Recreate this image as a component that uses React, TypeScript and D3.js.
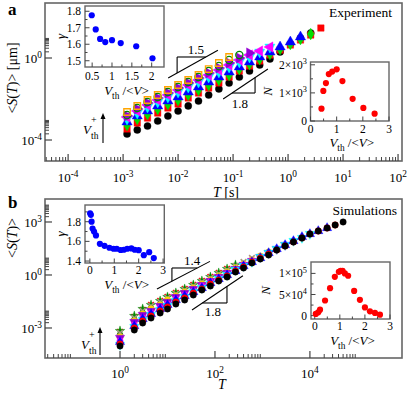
import React from "react";
import * as d3 from "d3";

// ---------- panel a : experiment ----------
const aT = [1.18e-3, 1.81e-3, 2.78e-3, 4.26e-3, 6.53e-3, 1.0e-2, 1.53e-2, 2.35e-2, 3.6e-2, 5.52e-2,
  8.47e-2, 0.13, 0.199, 0.305, 0.468, 0.716, 1.1, 1.68, 2.58, 3.95];
const aBlack = [1.96e-4, 3.1e-4, 4.8e-4, 8.5e-4, 1.48e-3, 2.6e-3, 4.6e-3, 8.0e-3, 1.57e-2, 3.1e-2, 6.0e-2, 0.118, 0.232, 0.456, 0.89, 1.96, 4.8, 9.5, 16.6];
const aRed = [3.44e-4, 6.75e-4, 1.18e-3, 2.07e-3, 3.64e-3, 5.7e-3, 1.12e-2, 1.96e-2, 3.44e-2, 6.03e-2, 0.118, 0.232, 0.407, 0.714, 1.4, 2.45, 4.31, 7.55, 13.2, 29.0];
const aGreenDia = [5.4e-4, 1.06e-3, 1.85e-3, 3.25e-3, 5.7e-3, 8.93e-3, 1.57e-2, 2.75e-2, 4.82e-2, 8.45e-2, 0.148, 0.29, 0.509, 0.893, 1.57, 2.75, 4.82, 8.45, 14.8];
const aBlue = [7.55e-4, 1.48e-3, 2.6e-3, 4.56e-3, 7.98e-3, 1.25e-2, 2.19e-2, 3.85e-2, 6.75e-2, 0.118, 0.207, 0.364, 0.638, 1.12, 1.96, 3.44, 6.03, 10.6];
const aCyan = [1.06e-3, 2.07e-3, 4.07e-3, 7.14e-3, 1.25e-2, 2.19e-2, 3.85e-2, 6.75e-2, 0.118, 0.207, 0.364, 0.638, 1.12, 1.96, 3.44];
const aMagenta = [1.32e-3, 2.6e-3, 5.09e-3, 8.93e-3, 1.57e-2, 2.75e-2, 4.82e-2, 8.45e-2, 0.148, 0.26, 0.456, 0.798, 1.4, 2.19, 3.44];
const aViolet = [1.48e-3, 3.25e-3, 6.38e-3, 1.12e-2, 1.96e-2, 3.44e-2, 6.03e-2, 0.106, 0.185, 0.325, 0.57, 1.0, 1.75];
const aGreenOpen = [1.66e-3, 3.64e-3, 7.14e-3, 1.25e-2, 2.19e-2, 3.85e-2, 6.75e-2, 0.118, 0.232, 0.407, 0.798, 1.4];
const aOrange = [2.32e-3, 4.56e-3, 8.93e-3, 1.57e-2, 2.75e-2, 4.82e-2, 8.45e-2, 0.148, 0.29, 0.57, 1.12];

// insets of panel a
const aGammaX = [0.49, 0.59, 0.7, 0.83, 1.0, 1.22, 1.61, 2.02];
const aGammaY = [1.776, 1.69, 1.632, 1.613, 1.625, 1.607, 1.588, 1.515];
const aNX = [0.42, 0.49, 0.59, 0.7, 0.83, 1.0, 1.22, 1.61, 2.02, 2.45];
const aNY = [440, 1070, 1350, 1670, 1760, 1840, 1420, 790, 465, 262];

// ---------- panel b : simulations ----------
const bT = [1, 2, 3, 4.5, 7, 10, 15, 23, 35, 53, 80, 120, 180, 270, 400, 600, 900, 1350, 2000, 3000,
  4500, 6800, 10000, 15000, 23000, 34000, 50000];
const bBlack = [9.6e-5, 7.7e-4, 1.92e-3, 3.69e-3, 7.07e-3, 1.19e-2, 2.29e-2, 3.85e-2, 7.38e-2, 0.142, 0.239, 0.457, 0.77, 1.48, 2.49, 4.78, 8.04, 13.5, 26.0, 43.8, 73.8, 124, 209, 309, 457, 676, 1000];
const bRed = [1.25e-4, 1.0e-3, 2.49e-3, 4.78e-3, 9.18e-3, 1.55e-2, 2.97e-2, 4.99e-2, 9.58e-2, 0.161, 0.309, 0.521, 0.878, 1.68, 2.84, 5.44, 9.16, 15.4, 26.0, 43.8, 73.8, 124, 209, 309, 457, 676];
const bBlue = [1.62e-4, 1.3e-3, 3.24e-3, 6.21e-3, 1.19e-2, 2.01e-2, 3.85e-2, 6.48e-2, 0.109, 0.184, 0.352, 0.594, 1.0, 1.68, 3.23, 5.44, 9.16, 17.6, 29.6, 49.9, 84.0, 142, 209, 309, 457];
const bCyan = [1.09e-4, 1.14e-3, 2.84e-3, 5.45e-3, 1.05e-2, 1.76e-2, 3.38e-2, 5.69e-2, 0.109, 0.184, 0.309, 0.594, 1.0, 1.92, 3.23, 5.44, 10.4, 17.6, 29.6, 49.9, 84.0, 124, 209];
const bMagenta = [1.84e-4, 1.48e-3, 3.69e-3, 7.07e-3, 1.36e-2, 2.29e-2, 4.38e-2, 7.38e-2, 0.124, 0.239, 0.402, 0.676, 1.14, 1.92, 3.68, 6.2, 10.4, 17.6, 29.6, 49.9, 84.0];
const bViolet = [2.72e-4, 2.19e-3, 5.45e-3, 9.18e-3, 1.76e-2, 2.97e-2, 5.69e-2, 9.58e-2, 0.161, 0.272, 0.457, 0.77, 1.3, 2.19, 3.68, 6.2, 10.4, 17.6, 29.6, 49.9];
const bYellow = [3.1e-4, 2.49e-3, 6.21e-3, 1.19e-2, 2.01e-2, 3.85e-2, 6.48e-2, 0.109, 0.184, 0.309, 0.521, 0.878, 1.48, 2.49, 4.19, 7.06, 11.9, 20.0];
const bGrey = [5.22e-4, 3.69e-3, 9.18e-3, 1.76e-2, 2.97e-2, 4.99e-2, 8.41e-2, 0.142, 0.239, 0.402, 0.676, 1.14, 1.92, 3.23, 5.44, 9.16];
const bGreenStar = [6.78e-4, 4.78e-3, 1.19e-2, 2.01e-2, 3.38e-2, 5.69e-2, 9.58e-2, 0.161, 0.272, 0.457, 0.77, 1.3, 2.19, 3.68];
const bRedX = [5.94e-4, 4.2e-3, 1.05e-2, 2.01e-2, 3.38e-2, 5.69e-2, 9.58e-2, 0.161, 0.272, 0.457, 0.77, 1.3, 2.19];

// insets of panel b
const bGammaX = [0.01, 0.04, 0.07, 0.11, 0.17, 0.25, 0.41, 0.6, 0.8, 0.97, 1.1, 1.26, 1.39, 1.53, 1.7, 1.84, 2.0, 2.21, 2.43, 2.62];
const bGammaY = [1.885, 1.87, 1.8, 1.73, 1.7, 1.66, 1.575, 1.555, 1.535, 1.525, 1.525, 1.512, 1.515, 1.525, 1.528, 1.515, 1.51, 1.46, 1.49, 1.43];
const bNX = [0.04, 0.14, 0.21, 0.41, 0.61, 0.8, 0.96, 1.03, 1.11, 1.2, 1.33, 1.57, 1.8, 2.0, 2.2, 2.4, 2.6];
const bNY = [4000, 7700, 14000, 35800, 64900, 92000, 103700, 106100, 106100, 100000, 94400, 58500, 37500, 19400, 10100, 6300, 2300];

// axis tick exponents / labels
const aXExp = [-4, -3, -2, -1, 0, 1, 2];
const aYExp = [-4, 0];
const bXExp = [0, 2, 4];
const bYExp = [-3, 0, 3];

const FONT = "'Liberation Serif', 'Times New Roman', serif";

type Ser = { kind: string; color: string; open?: boolean; values: number[] };

const aSeries: Ser[] = [
  { kind: "circle", color: "#000000", values: aBlack },
  { kind: "square", color: "#ff0000", values: aRed },
  { kind: "diamond", color: "#00e000", values: aGreenDia },
  { kind: "triUp", color: "#0000ff", values: aBlue },
  { kind: "triDown", color: "#00ffff", values: aCyan },
  { kind: "triLeft", color: "#ff00ff", values: aMagenta },
  { kind: "triRight", color: "#9400d3", values: aViolet },
  { kind: "circle", color: "#008b00", open: true, values: aGreenOpen },
  { kind: "square", color: "#ffa500", open: true, values: aOrange },
];

const bSeries: Ser[] = [
  { kind: "times", color: "#ff0000", values: bRedX },
  { kind: "star", color: "#008b00", values: bGreenStar },
  { kind: "times", color: "#a89880", values: bGrey },
  { kind: "circle", color: "#ffd700", values: bYellow },
  { kind: "triDown", color: "#9400d3", values: bViolet },
  { kind: "circle", color: "#ff00ff", values: bMagenta },
  { kind: "triDown", color: "#00ffff", values: bCyan },
  { kind: "triUp", color: "#0000ff", values: bBlue },
  { kind: "circle", color: "#ff0000", values: bRed },
  { kind: "circle", color: "#000000", values: bBlack },
];

function Mark({ kind, color, open, x, y, size }: any) {
  if (kind === "times") {
    const h = Math.sqrt(size) / 2;
    return <path d={`M${-h},${-h}L${h},${h}M${-h},${h}L${h},${-h}`} transform={`translate(${x},${y})`} stroke={color} strokeWidth={1.6} fill="none" />;
  }
  const type = kind === "circle" ? d3.symbolCircle : kind === "square" ? d3.symbolSquare
    : kind === "diamond" ? d3.symbolDiamond : kind === "star" ? d3.symbolStar : d3.symbolTriangle;
  const rot = kind === "triDown" ? 180 : kind === "triRight" ? 90 : kind === "triLeft" ? -90 : 0;
  const d = d3.symbol().type(type).size(size)() as string;
  return <path d={d} transform={`translate(${x},${y}) rotate(${rot})`} fill={open ? "none" : color} stroke={color} strokeWidth={open ? 1.3 : 0.4} />;
}

function Pow({ x, y, base = "10", exp, anchor = "middle", fs = 13 }: any) {
  return (
    <text x={x} y={y} textAnchor={anchor} fontSize={fs}>
      {base}<tspan dy={-fs * 0.42} fontSize={fs * 0.72}>{exp}</tspan>
    </text>
  );
}

function VLabel({ x, y, fs = 13 }: any) {
  return (
    <text x={x} y={y} textAnchor="middle" fontSize={fs}>
      <tspan fontStyle="italic">V</tspan>
      <tspan dy={4} fontSize={fs * 0.72}>th</tspan>
      <tspan dy={-4}>{" /<"}</tspan>
      <tspan fontStyle="italic">V</tspan>{">"}
    </text>
  );
}

function minors(exps: number[], dom: number[]) {
  const out: number[] = [];
  exps.forEach(e => {
    for (let k = 2; k <= 9; k++) {
      const v = k * Math.pow(10, e);
      if (v > dom[0] && v < dom[1]) out.push(v);
    }
  });
  return out;
}

function LogPanel({ box, xDom, yDom, xExp, yExp, xMinorExp, yMinorExp, T, series, sz, xLabY, yLabX }: any) {
  const x = d3.scaleLog().domain(xDom).range([box.l, box.r]);
  const y = d3.scaleLog().domain(yDom).range([box.b, box.t]);
  const xm = minors(xMinorExp, xDom);
  const ym = minors(yMinorExp, yDom);
  return (
    <g>
      <rect x={box.l} y={box.t} width={box.r - box.l} height={box.b - box.t} fill="white" stroke="#666" strokeWidth={1.6} />
      {xExp.map((e: number) => (
        <g key={"x" + e}>
          <line x1={x(10 ** e)} x2={x(10 ** e)} y1={box.b} y2={box.b - 7} stroke="#444" strokeWidth={1.2} />
          <Pow x={x(10 ** e)} y={xLabY} exp={e} />
        </g>
      ))}
      {xm.map((v: number, i: number) => (
        <line key={"xm" + i} x1={x(v)} x2={x(v)} y1={box.b} y2={box.b - 4} stroke="#444" strokeWidth={1} />
      ))}
      {yExp.map((e: number) => (
        <g key={"y" + e}>
          <line x1={box.l} x2={box.l + 7} y1={y(10 ** e)} y2={y(10 ** e)} stroke="#444" strokeWidth={1.2} />
          <Pow x={yLabX} y={y(10 ** e) + 5} exp={e} anchor="end" />
        </g>
      ))}
      {ym.map((v: number, i: number) => (
        <line key={"ym" + i} x1={box.l} x2={box.l + 4} y1={y(v)} y2={y(v)} stroke="#444" strokeWidth={1} />
      ))}
      {series.map((s: Ser, si: number) => (
        <g key={"s" + si}>
          {s.values.map((v, i) => (
            <Mark key={i} kind={s.kind} color={s.color} open={s.open} x={x(T[i])} y={y(v)}
              size={s.kind === "square" ? sz * 1.05 : s.kind.startsWith("tri") ? sz * 1.15 : s.kind === "star" ? sz * 0.9 : sz} />
          ))}
        </g>
      ))}
    </g>
  );
}

function SlopeGuide({ x, y, g }: any) {
  // diagonal with slope g.slope through (g.t0, g.s0), triangle corner at (g.cT, g.cS)
  const f = (t: number) => g.s0 * Math.pow(t / g.t0, g.slope);
  const tCross = g.t0 * Math.pow(g.cS / g.s0, 1 / g.slope);
  return (
    <g stroke="#000" strokeWidth={1.1} fill="none">
      <line x1={x(g.t0)} y1={y(g.s0)} x2={x(g.t1)} y2={y(f(g.t1))} />
      <line x1={x(g.cT)} y1={y(g.cS)} x2={x(tCross)} y2={y(g.cS)} />
      <line x1={x(g.cT)} y1={y(g.cS)} x2={x(g.cT)} y2={y(f(g.cT))} />
      <text x={x(g.lt)} y={y(g.ls)} textAnchor="middle" fontSize={13} stroke="none" fill="#000">{g.label}</text>
    </g>
  );
}

function LinInset({ box, xDom, yDom, xTicks, xMinor, yTicks, yMinor, xs, ys, color, yFmt, xLabY, tickY, yLabX, yTitle, yTitleX }: any) {
  const x = d3.scaleLinear().domain(xDom).range([box.l, box.r]);
  const y = d3.scaleLinear().domain(yDom).range([box.b, box.t]);
  return (
    <g>
      <rect x={box.l} y={box.t} width={box.r - box.l} height={box.b - box.t} fill="white" stroke="#666" strokeWidth={1.4} />
      {xMinor.map((v: number, i: number) => (
        <line key={"xm" + i} x1={x(v)} x2={x(v)} y1={box.b} y2={box.b - 2.5} stroke="#444" />
      ))}
      {xTicks.map((v: number) => (
        <g key={"x" + v}>
          <line x1={x(v)} x2={x(v)} y1={box.b} y2={box.b - 4.5} stroke="#444" />
          <text x={x(v)} y={tickY} textAnchor="middle" fontSize={11.5}>{v}</text>
        </g>
      ))}
      {yMinor.map((v: number, i: number) => (
        <line key={"ym" + i} x1={box.l} x2={box.l + 2.5} y1={y(v)} y2={y(v)} stroke="#444" />
      ))}
      {yTicks.map((v: number) => (
        <g key={"y" + v}>
          <line x1={box.l} x2={box.l + 4.5} y1={y(v)} y2={y(v)} stroke="#444" />
          {yFmt(v, yLabX, y(v) + 4)}
        </g>
      ))}
      {xs.map((v: number, i: number) => (
        <circle key={i} cx={x(v)} cy={y(ys[i])} r={3.1} fill={color} />
      ))}
      <VLabel x={(box.l + box.r) / 2 + 2} y={xLabY} />
      <text transform={`translate(${yTitleX},${(box.t + box.b) / 2}) rotate(-90)`} textAnchor="middle" fontSize={13} fontStyle="italic">{yTitle}</text>
    </g>
  );
}

const plainFmt = (v: number, lx: number, ly: number) => (
  <text x={lx} y={ly} textAnchor="end" fontSize={11.5}>{v.toFixed(1)}</text>
);
const aNFmt = (v: number, lx: number, ly: number) =>
  v === 0 ? <text x={lx} y={ly} textAnchor="end" fontSize={11.5}>0</text>
    : <Pow x={lx} y={ly} base={`${v / 1000}×10`} exp={3} anchor="end" fs={11.5} />;
const bNFmt = (v: number, lx: number, ly: number) =>
  v === 0 ? <text x={lx} y={ly} textAnchor="end" fontSize={11.5}>0</text>
    : v === 50000 ? <Pow x={lx} y={ly} base="5×10" exp={4} anchor="end" fs={11.5} />
      : <Pow x={lx} y={ly} base="1×10" exp={5} anchor="end" fs={11.5} />;

function Arrow({ x, y1, y2 }: any) {
  return (
    <g>
      <line x1={x} x2={x} y1={y1} y2={y2 + 4} stroke="#000" strokeWidth={1.1} />
      <path d={`M${x},${y2}L${x - 2.5},${y2 + 6}L${x + 2.5},${y2 + 6}Z`} fill="#000" />
    </g>
  );
}

function VthPlus({ x, y }: any) {
  return (
    <g fontSize={13}>
      <text x={x} y={y} fontStyle="italic">V</text>
      <text x={x + 8} y={y - 11} fontSize={10}>+</text>
      <text x={x + 8} y={y + 5} fontSize={9.5}>th</text>
    </g>
  );
}

export default function App() {
  const boxA = { l: 45, r: 402, t: 3, b: 161 };
  const boxB = { l: 45, r: 402, t: 199, b: 358 };
  const aXDom = [3.8e-5, 118];
  const aYDom = [9.46e-6, 482];
  const bXDom = [0.0263, 8.7e5];
  const bYDom = [2.0e-5, 2.0e4];
  const ax = d3.scaleLog().domain(aXDom).range([boxA.l, boxA.r]);
  const ay = d3.scaleLog().domain(aYDom).range([boxA.b, boxA.t]);
  const bx = d3.scaleLog().domain(bXDom).range([boxB.l, boxB.r]);
  const by = d3.scaleLog().domain(bYDom).range([boxB.b, boxB.t]);

  const guideA1 = { t0: 6.6e-3, s0: 0.106, t1: 0.053, slope: 1.5, cT: 9.6e-3, cS: 1.12, lt: 0.021, ls: 1.55, label: "1.5" };
  const guideA2 = { t0: 0.066, s0: 0.01, t1: 0.43, slope: 1.8, cT: 0.251, cS: 0.0196, lt: 0.133, ls: 0.0037, label: "1.8" };
  const guideB1 = { t0: 6.0, s0: 0.161, t1: 78.5, slope: 1.4, cT: 12.4, cS: 2.49, lt: 33, ls: 3.7, label: "1.4" };
  const guideB2 = { t0: 32.8, s0: 0.0105, t1: 388, slope: 1.8, cT: 179, cS: 0.026, lt: 90, ls: 0.0045, label: "1.8" };

  return (
    <svg width={409} height={394} style={{ position: "fixed", left: 0, top: 0, background: "white" }} fontFamily={FONT}>
      {/* panel a */}
      <LogPanel box={boxA} xDom={aXDom} yDom={aYDom} xExp={aXExp} yExp={aYExp}
        xMinorExp={[-5, -4, -3, -2, -1, 0, 1]} yMinorExp={[-4, 0]} T={aT} series={aSeries} sz={40}
        xLabY={182} yLabX={42} />
      <SlopeGuide x={ax} y={ay} g={guideA1} />
      <SlopeGuide x={ax} y={ay} g={guideA2} />
      <Arrow x={103} y1={143} y2={113} />
      <VthPlus x={83} y={134} />
      <text x={392} y={17} textAnchor="end" fontSize={13.5}>Experiment</text>
      <LinInset box={{ l: 85, r: 164, t: 6, b: 67 }} xDom={[0.32, 2.31]} yDom={[1.462, 1.832]}
        xTicks={[0.5, 1, 1.5, 2]} xMinor={[0.75, 1.25, 1.75]} yTicks={[1.5, 1.6, 1.7, 1.8]} yMinor={[1.55, 1.65, 1.75]}
        xs={aGammaX} ys={aGammaY} color="#0000ff" yFmt={plainFmt} tickY={80} xLabY={95} yLabX={81} yTitle="γ" yTitleX={65} />
      <LinInset box={{ l: 310.5, r: 389, t: 62, b: 121 }} xDom={[0, 3]} yDom={[0, 2100]}
        xTicks={[0, 1, 2, 3]} xMinor={[0.5, 1.5, 2.5]} yTicks={[0, 1000, 2000]} yMinor={[500, 1500]}
        xs={aNX} ys={aNY} color="#ff0000" yFmt={aNFmt} tickY={133} xLabY={147} yLabX={307} yTitle="N" yTitleX={272} />
      <text x={8} y={15} fontSize={17} fontWeight="bold">a</text>
      <text transform="translate(17,78) rotate(-90)" textAnchor="middle" fontSize={14}>
        {"<"}<tspan fontStyle="italic">S</tspan>(<tspan fontStyle="italic">T</tspan>){"> [μm]"}
      </text>
      <text x={226} y={197} textAnchor="middle" fontSize={14}><tspan fontStyle="italic">T</tspan> [s]</text>

      {/* panel b */}
      <LogPanel box={boxB} xDom={bXDom} yDom={bYDom} xExp={bXExp} yExp={bYExp}
        xMinorExp={[-2, 0, 2, 4]} yMinorExp={[-3, 0, 3]} T={bT} series={bSeries} sz={32}
        xLabY={378} yLabX={42} />
      <SlopeGuide x={bx} y={by} g={guideB1} />
      <SlopeGuide x={bx} y={by} g={guideB2} />
      <Arrow x={100} y1={355} y2={327} />
      <VthPlus x={81} y={349} />
      <text x={397} y={215} textAnchor="end" fontSize={13.5}>Simulations</text>
      <LinInset box={{ l: 85, r: 164.3, t: 205, b: 263 }} xDom={[-0.2, 3.05]} yDom={[1.38, 1.97]}
        xTicks={[0, 1, 2, 3]} xMinor={[0.5, 1.5, 2.5]} yTicks={[1.4, 1.6, 1.8]} yMinor={[1.5, 1.7, 1.9]}
        xs={bGammaX} ys={bGammaY} color="#0000ff" yFmt={plainFmt} tickY={274} xLabY={289} yLabX={81} yTitle="γ" yTitleX={65} />
      <LinInset box={{ l: 311, r: 390, t: 262, b: 319 }} xDom={[-0.15, 3.0]} yDom={[-8000, 127000]}
        xTicks={[0, 1, 2, 3]} xMinor={[0.5, 1.5, 2.5]} yTicks={[0, 50000, 100000]} yMinor={[25000, 75000]}
        xs={bNX} ys={bNY} color="#ff0000" yFmt={bNFmt} tickY={330} xLabY={345} yLabX={307} yTitle="N" yTitleX={270} />
      <text x={8} y={208} fontSize={17} fontWeight="bold">b</text>
      <text transform="translate(17,238) rotate(-90)" textAnchor="middle" fontSize={14}>
        {"<"}<tspan fontStyle="italic">S</tspan>(<tspan fontStyle="italic">T</tspan>){">"}
      </text>
      <text x={222} y={389} textAnchor="middle" fontSize={14} fontStyle="italic">T</text>
    </svg>
  );
}
